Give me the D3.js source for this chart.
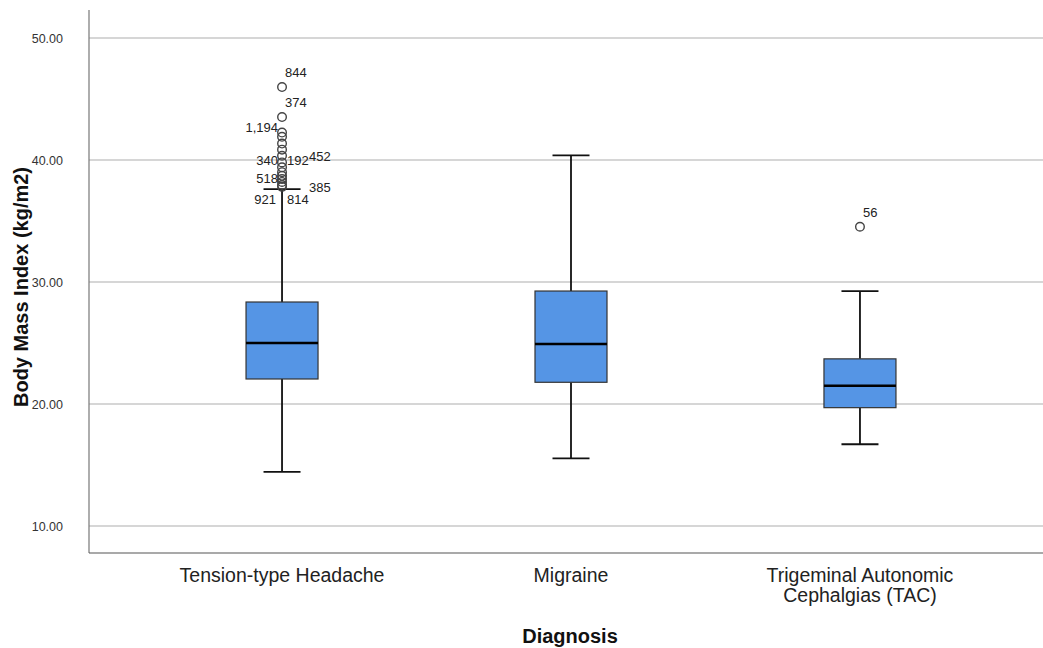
<!DOCTYPE html>
<html>
<head>
<meta charset="utf-8">
<script src="https://cdn.jsdelivr.net/npm/d3@7"></script>
<style>
  body { margin: 0; background: #fff; }
  svg { font-family: "Liberation Sans", Arial, sans-serif; }
</style>
</head>
<body>
<div id="chart"></div>
<script>
// Diagnosis categories (line breaks for long labels)
const categories = ["Tension-type Headache", "Migraine", "Trigeminal Autonomic Cephalgias (TAC)"];
const categoryLines = [["Tension-type Headache"], ["Migraine"], ["Trigeminal Autonomic", "Cephalgias (TAC)"]];

// Box statistics per category
const whiskerLow = [14.43, 15.55, 16.7];
const q1 = [22.05, 21.78, 19.7];
const medians = [25.0, 24.92, 21.5];
const q3 = [28.36, 29.26, 23.7];
const whiskerHigh = [37.62, 40.38, 29.26];

// Outliers: category index, value, case label ("" = unlabelled)
const outlierCat = [0, 0, 0, 0, 0, 0, 0, 0, 0, 0, 0, 0, 0, 0, 0, 2];
const outlierVal = [45.98, 43.52, 42.25, 41.9, 41.35, 40.85, 40.35, 39.8, 39.4, 39.0, 38.7, 38.45, 38.2, 37.95, 37.8, 34.53];
const outlierLabel = ["844", "374", "1,194", "", "", "", "", "", "", "", "", "", "", "", "", "56"];

// Free-floating case labels near the dense stack (category, value at baseline, side)
const stackLabels = ["340", "192", "452", "518", "385", "921", "814"];
const stackLabelVal = [39.6, 39.55, 39.95, 38.1, 37.35, 36.4, 36.4];
const stackLabelDx = [-4, 5, 27, -4, 27, -6, 5];
const stackLabelAnchor = ["end", "start", "start", "end", "start", "end", "start"];

const yTicks = [10, 20, 30, 40, 50];

const width = 1043, height = 648;
const margin = { top: 10, right: 0, bottom: 95, left: 89 };

const svg = d3.select("#chart").append("svg")
  .attr("width", width)
  .attr("height", height);

const y = d3.scaleLinear()
  .domain([50, 10])
  .range([38, 526]);

const x = d3.scalePoint()
  .domain(categories)
  .range([margin.left, 1053])
  .padding(0.668);

const boxW = 72;
const capW = 37;

// Gridlines
svg.append("g")
  .selectAll("line")
  .data(yTicks)
  .join("line")
  .attr("x1", margin.left)
  .attr("x2", width)
  .attr("y1", d => y(d))
  .attr("y2", d => y(d))
  .attr("stroke", "#c8c8c8")
  .attr("stroke-width", 1.5);

// Y axis
const yAxis = d3.axisLeft(y)
  .tickValues(yTicks)
  .tickFormat(d3.format(".2f"))
  .tickSize(0)
  .tickPadding(26);

const yAxisG = svg.append("g")
  .attr("transform", `translate(${margin.left},0)`)
  .call(yAxis);
yAxisG.select(".domain").remove();
yAxisG.selectAll("text")
  .attr("font-size", 12.5)
  .attr("fill", "#333")
  .attr("font-family", "'Liberation Sans Narrow', 'Liberation Sans', Arial, sans-serif");

// Axis lines
svg.append("line")
  .attr("x1", margin.left).attr("x2", margin.left)
  .attr("y1", margin.top).attr("y2", 553)
  .attr("stroke", "#777").attr("stroke-width", 1.2);
svg.append("line")
  .attr("x1", margin.left).attr("x2", width)
  .attr("y1", 553).attr("y2", 553)
  .attr("stroke", "#555").attr("stroke-width", 1.2);

// Boxes
const boxes = svg.append("g")
  .selectAll("g")
  .data(categories)
  .join("g")
  .attr("transform", d => `translate(${x(d)},0)`);

boxes.append("line")
  .attr("y1", (d, i) => y(whiskerLow[i]))
  .attr("y2", (d, i) => y(q1[i]))
  .attr("stroke", "#111").attr("stroke-width", 1.8);
boxes.append("line")
  .attr("y1", (d, i) => y(q3[i]))
  .attr("y2", (d, i) => y(whiskerHigh[i]))
  .attr("stroke", "#111").attr("stroke-width", 1.8);
boxes.append("line")
  .attr("x1", -capW / 2).attr("x2", capW / 2)
  .attr("y1", (d, i) => y(whiskerLow[i]))
  .attr("y2", (d, i) => y(whiskerLow[i]))
  .attr("stroke", "#111").attr("stroke-width", 1.8);
boxes.append("line")
  .attr("x1", -capW / 2).attr("x2", capW / 2)
  .attr("y1", (d, i) => y(whiskerHigh[i]))
  .attr("y2", (d, i) => y(whiskerHigh[i]))
  .attr("stroke", "#111").attr("stroke-width", 1.8);

boxes.append("rect")
  .attr("x", -boxW / 2)
  .attr("width", boxW)
  .attr("y", (d, i) => y(q3[i]))
  .attr("height", (d, i) => y(q1[i]) - y(q3[i]))
  .attr("fill", "#5595e5")
  .attr("stroke", "#333")
  .attr("stroke-width", 1.2);

boxes.append("line")
  .attr("x1", -boxW / 2).attr("x2", boxW / 2)
  .attr("y1", (d, i) => y(medians[i]))
  .attr("y2", (d, i) => y(medians[i]))
  .attr("stroke", "#000").attr("stroke-width", 2.5);

// Outliers
const outliers = outlierVal.map((v, i) => ({ cat: categories[outlierCat[i]], v, label: outlierLabel[i] }));

svg.append("g")
  .selectAll("circle")
  .data(outliers)
  .join("circle")
  .attr("cx", d => x(d.cat))
  .attr("cy", d => y(d.v))
  .attr("r", 4.3)
  .attr("fill", "none")
  .attr("stroke", "#444")
  .attr("stroke-width", 1.4);

svg.append("g")
  .selectAll("text")
  .data(outliers.filter(d => d.label !== ""))
  .join("text")
  .attr("x", d => d.label === "1,194" ? x(d.cat) - 4 : x(d.cat) + 3)
  .attr("y", d => d.label === "1,194" ? y(d.v) - 1 : y(d.v) - 10)
  .attr("text-anchor", d => d.label === "1,194" ? "end" : "start")
  .attr("font-size", 13)
  .attr("fill", "#222")
  .text(d => d.label);

svg.append("g")
  .selectAll("text")
  .data(stackLabels)
  .join("text")
  .attr("x", (d, i) => x(categories[0]) + stackLabelDx[i])
  .attr("y", (d, i) => y(stackLabelVal[i]))
  .attr("text-anchor", (d, i) => stackLabelAnchor[i])
  .attr("font-size", 13)
  .attr("fill", "#222")
  .text(d => d);

// Category labels
const catLabels = svg.append("g")
  .selectAll("text")
  .data(categories)
  .join("text")
  .attr("x", d => x(d))
  .attr("y", 582)
  .attr("text-anchor", "middle")
  .attr("font-size", 19.5)
  .attr("fill", "#222");
catLabels.selectAll("tspan")
  .data((d, i) => categoryLines[i])
  .join("tspan")
  .attr("x", function () { return d3.select(this.parentNode).attr("x"); })
  .attr("dy", (d, i) => i === 0 ? 0 : 20)
  .text(d => d);

// Axis titles
svg.append("text")
  .attr("x", 570)
  .attr("y", 643)
  .attr("text-anchor", "middle")
  .attr("font-size", 20)
  .attr("font-weight", "bold")
  .attr("fill", "#111")
  .text("Diagnosis");

svg.append("text")
  .attr("transform", "rotate(-90)")
  .attr("x", -287)
  .attr("y", 28)
  .attr("text-anchor", "middle")
  .attr("font-size", 20)
  .attr("font-weight", "bold")
  .attr("fill", "#111")
  .text("Body Mass Index (kg/m2)");
</script>
</body>
</html>
